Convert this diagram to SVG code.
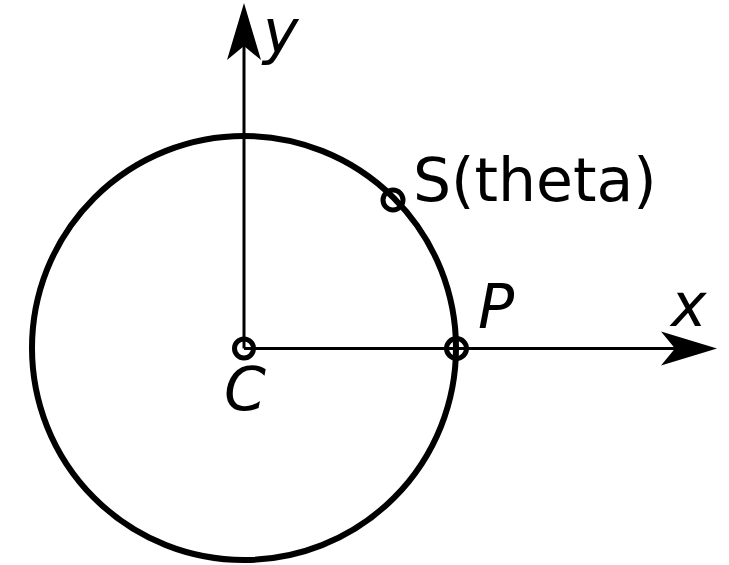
<svg xmlns="http://www.w3.org/2000/svg" width="729" height="565" viewBox="0 0 729 565">
<style>
.ax{stroke:#000;stroke-width:3;fill:none}
.big{stroke:#000;stroke-width:6;fill:none}
.pt{stroke:#000;stroke-width:5;fill:none}
.lbl{font-family:"DejaVu Sans",sans-serif;font-size:60px;fill:#000}
.it{font-style:italic}
.head{fill:#000;stroke:none}
</style>
<rect width="729" height="565" fill="#fff"/>
<g id="circle"><circle cx="244" cy="348" r="212" class="big"/></g>
<g id="connectors">
<line class="ax" x1="244" y1="348.5" x2="244" y2="40"/>
<path class="head" d="M244,3 L261,60 L244,46 L227,60 Z"/>
<line class="ax" x1="244" y1="348.5" x2="685" y2="348.5"/>
<path class="head" d="M717,348.5 L661,331.5 L675,348.5 L661,365.5 Z"/>
</g>
<g id="C"><circle cx="244" cy="348.5" r="9.5" class="pt"/><text class="lbl it" x="224" y="410">C</text></g>
<g id="P"><circle cx="456.5" cy="348.5" r="10" class="pt"/><text class="lbl it" x="478" y="328">P</text></g>
<g id="S"><circle cx="393" cy="200" r="10" class="pt"/><text class="lbl" x="413" y="201">S(theta)</text></g>
<g id="yl"><text class="lbl it" x="263" y="53">y</text></g>
<g id="xl"><text class="lbl it" x="671" y="326">x</text></g>
</svg>
